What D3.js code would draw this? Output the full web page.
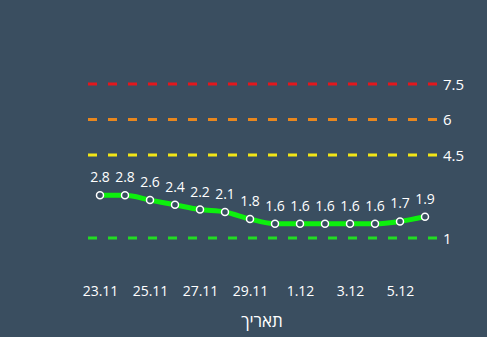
<!DOCTYPE html>
<style>
  body { margin: 0; background: #3a4e60; }
  svg { display: block; font-family: "Open Sans", sans-serif; }
</style>
<body>
<script src="https://d3js.org/d3.v7.min.js"></script>
<script>
  var dates = ["23.11","24.11","25.11","26.11","27.11","28.11","29.11","30.11","1.12","2.12","3.12","4.12","5.12","6.12"];
  var values = [2.8, 2.8, 2.6, 2.4, 2.2, 2.1, 1.8, 1.6, 1.6, 1.6, 1.6, 1.6, 1.7, 1.9];
  var tickLabels = ["23.11","25.11","27.11","29.11","1.12","3.12","5.12"];
  var thresholds = [7.5, 6, 4.5, 1];
  var thresholdColors = ["#e3171c", "#e8871e", "#f2e516", "#22dd22"];

  var width = 487, height = 337;
  var svg = d3.select("body").append("svg")
      .attr("width", width)
      .attr("height", height);

  svg.append("rect").attr("width", width).attr("height", height).attr("fill", "#3a4e60");

  // x: one step per day
  var x = d3.scalePoint()
      .domain(dates)
      .range([100, 425]);
  var y = d3.scaleLinear()
      .domain([1, 7.5])
      .range([238, 84]);

  // threshold lines
  svg.append("g").selectAll("line")
    .data(thresholds)
    .enter().append("line")
      .attr("x1", 88)
      .attr("x2", 437)
      .attr("y1", function(d) { return y(d); })
      .attr("y2", function(d) { return y(d); })
      .attr("stroke", function(d, i) { return thresholdColors[i]; })
      .attr("stroke-width", 3)
      .attr("stroke-dasharray", "9,11");

  svg.append("g").selectAll("text")
    .data(thresholds)
    .enter().append("text")
      .attr("x", 443)
      .attr("y", function(d) { return y(d) + 5.5; })
      .attr("fill", "#ffffff")
      .attr("font-size", 15)
      .text(function(d) { return d; });

  // the line
  var line = d3.line()
      .x(function(d, i) { return x(dates[i]); })
      .y(function(d) { return y(d); })
      .curve(d3.curveMonotoneX);

  svg.append("path")
      .datum(values)
      .attr("d", line)
      .attr("fill", "none")
      .attr("stroke", "#0df00d")
      .attr("stroke-width", 5);

  svg.append("g").selectAll("circle")
    .data(values)
    .enter().append("circle")
      .attr("cx", function(d, i) { return x(dates[i]); })
      .attr("cy", function(d) { return y(d); })
      .attr("r", 3.5)
      .attr("fill", "#3a4e60")
      .attr("stroke", "#ffffff")
      .attr("stroke-width", 1.5);

  svg.append("g").selectAll("text")
    .data(values)
    .enter().append("text")
      .attr("x", function(d, i) { return x(dates[i]); })
      .attr("y", function(d) { return y(d) - 13; })
      .attr("text-anchor", "middle")
      .attr("fill", "#ffffff")
      .attr("font-size", 14)
      .text(function(d) { return d.toFixed(1); });

  // x axis
  var xAxis = d3.axisBottom(x)
      .tickValues(tickLabels)
      .tickSize(0)
      .tickPadding(0);
  var gx = svg.append("g")
      .attr("transform", "translate(0,286)")
      .call(xAxis);
  gx.select(".domain").remove();
  gx.selectAll("text")
      .attr("fill", "#ffffff")
      .attr("font-size", 14)
      .attr("font-family", "Open Sans, sans-serif");

  svg.append("text")
      .attr("x", 262)
      .attr("y", 327)
      .attr("text-anchor", "middle")
      .attr("fill", "#ffffff")
      .attr("font-size", 17)
      .text("תאריך");
</script>
</body>
